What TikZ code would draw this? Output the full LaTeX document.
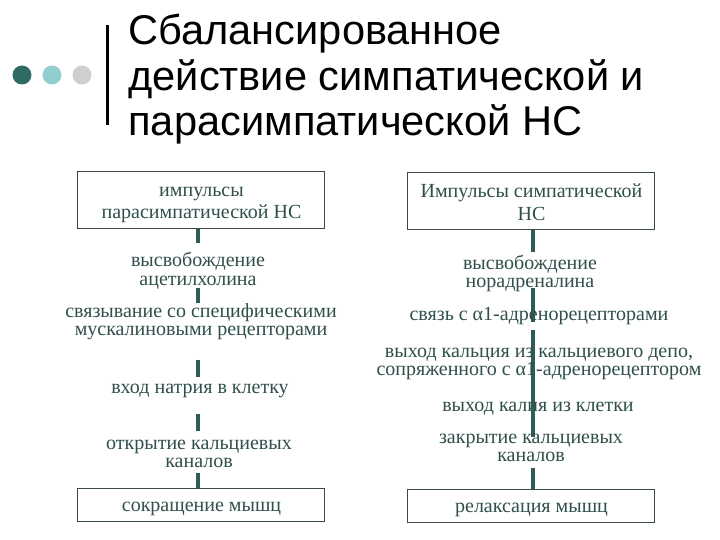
\documentclass[tikz,border=0pt]{standalone}
\usepackage{fontspec}
\setmainfont{Liberation Serif}
\newfontfamily\titlefont{Liberation Sans}
\usetikzlibrary{backgrounds}
\definecolor{txtc}{HTML}{2F4F4B}
\definecolor{connc}{HTML}{2E5C58}
\definecolor{boxc}{HTML}{3A4A48}
\definecolor{dotA}{HTML}{2E6B63}
\definecolor{dotB}{HTML}{92CDD0}
\definecolor{dotC}{HTML}{CFCFCF}
\begin{document}
\begin{tikzpicture}[x=0.5pt,y=-0.5pt,
  ttl/.style={anchor=base west, inner sep=0pt, font=\titlefont\fontsize{20.8}{22.75}\selectfont},
  lbl/.style={anchor=base, align=center, inner sep=0pt, text=txtc, font=\fontsize{10}{9.25}\selectfont},
  boxn/.style={draw=boxc, line width=0.5pt, inner sep=0pt, minimum width=123.5pt},
  conn/.style={draw=connc, line width=2pt}]
\useasboundingbox (0,0) rectangle (720,540);
% decoration
\fill[dotA] (22,75) circle (9.5);
\fill[dotB] (52,75) circle (9.5);
\fill[dotC] (82,75) circle (9.5);
\draw[line width=1.5pt] (108,25) -- (108,125);
% title
\node[ttl] (t1) at (128,45) {Сбалансированное};
\node[ttl] (t2) at (128,91) {действие симпатической и};
\node[ttl] (t3) at (128,136) {парасимпатической НС};
% left column
\node[boxn, minimum height=28.5pt] (L1) at (201.5,200.5) {};
\node[lbl, font=\fontsize{10}{11}\selectfont] (L1t) at (201.5,218.5) {импульсы\\парасимпатической НС};
\node[lbl] (L2) at (198,285.5) {высвобождение\\ацетилхолина};
\node[lbl] (L3) at (201,336) {связывание со специфическими\\мускалиновыми рецепторами};
\node[lbl] (L4) at (200,393.5) {вход натрия в клетку};
\node[lbl] (L5) at (199,468) {открытие кальциевых\\каналов};
\node[boxn, minimum height=16.5pt] (L6) at (201.5,505.5) {};
\node[lbl] (L6t) at (201.5,511.5) {сокращение мышц};
% right column
\node[boxn, minimum height=28.5pt] (R1) at (531.5,201.5) {};
\node[lbl, font=\fontsize{10}{11.5}\selectfont] (R1t) at (531.5,220.5) {Импульсы симпатической\\НС};
\node[lbl] (R2) at (530,288) {высвобождение\\норадреналина};
\node[lbl] (R3) at (539,320.5) {связь с α1-адренорецепторами};
\node[lbl] (R4) at (539,376) {выход кальция из кальциевого депо,\\сопряженного с α1-адренорецептором};
\node[lbl] (R5) at (538,411.5) {выход калия из клетки};
\node[lbl] (R6) at (531,462) {закрытие кальциевых\\каналов};
\node[boxn, minimum height=16.5pt] (R7) at (531.5,506.5) {};
\node[lbl] (R7t) at (531.5,512.5) {релаксация мышц};
% connectors
\begin{scope}[on background layer]
\coordinate (a1) at (198,243); \draw[conn] (L1.south -| a1) -- (a1);
\coordinate (a2) at (198,288); \coordinate (a3) at (198,303); \draw[conn] (a2) -- (a3);
\coordinate (a4) at (198,360); \coordinate (a5) at (198,377); \draw[conn] (a4) -- (a5);
\coordinate (a6) at (198,414); \coordinate (a7) at (198,431); \draw[conn] (a6) -- (a7);
\coordinate (a8) at (198,473); \draw[conn] (a8) -- (L6.north -| a8);
\coordinate (b1) at (533,252); \draw[conn] (R1.south -| b1) -- (b1);
\coordinate (b2) at (533,288); \coordinate (b3) at (533,322); \draw[conn] (b2) -- (b3);
\coordinate (b4) at (533,330); \coordinate (b5) at (533,437); \draw[conn] (b4) -- (b5);
\coordinate (b6) at (533,468); \draw[conn] (b6) -- (R7.north -| b6);
\end{scope}
\end{tikzpicture}
\end{document}
